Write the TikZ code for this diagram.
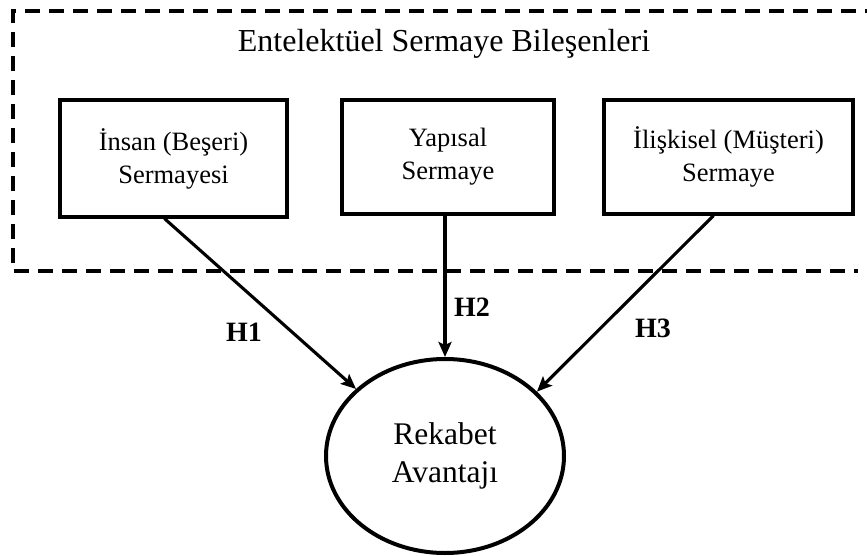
\documentclass[tikz,border=0pt]{standalone}
\usepackage{fontspec}
\setmainfont{Liberation Serif}
\usetikzlibrary{arrows.meta,shapes.geometric}

\begin{document}
\begin{tikzpicture}[x=1pt,y=-1pt,
    comp/.style={draw,line width=3.2pt,minimum height=114pt,align=center,
      font=\fontsize{26.5}{33}\selectfont},
    hyp/.style={font=\fontsize{28}{30}\selectfont\bfseries},
    link/.style={line width=3.1pt,-{Stealth[length=15pt,width=13pt,inset=3pt]}}]
      \useasboundingbox (0,0) rectangle (867,556);
      \draw[line width=3.2pt,dash pattern=on 15pt off 9pt] (880,11) -- (13,11) -- (13,271) -- (858,271);
      \node (title) at (444,44) {\fontsize{32}{36}\selectfont Entelektüel Sermaye Bileşenleri};
      \node[comp,minimum width=227pt,minimum height=117pt] (insan) at (173.5,158.5) {İnsan (Beşeri)\\Sermayesi};
      \node[comp,minimum width=212pt] (yapi) at (448,157) {Yapısal\\Sermaye};
      \node[comp,minimum width=249pt] (iliski) at (728.5,157) {İlişkisel (Müşteri)\\Sermaye};
      \node[ellipse,draw,line width=4pt,minimum width=238pt,minimum height=194pt,align=center,
        font=\fontsize{31.5}{38}\selectfont] (rekabet) at (445,456) {Rekabet\\Avantajı};
      \draw[link] ([xshift=-9pt]insan.south) -- (rekabet.143);
      \draw[link] ([xshift=-3pt]yapi.south) -- (rekabet.north);
      \draw[link] ([xshift=-15pt]iliski.south) -- (rekabet.35);
      \node[hyp] (h1) at (244,332) {H1};
      \node[hyp] (h2) at (472,307) {H2};
      \node[hyp] (h3) at (653,328) {H3};
    \end{tikzpicture}
\end{document}
